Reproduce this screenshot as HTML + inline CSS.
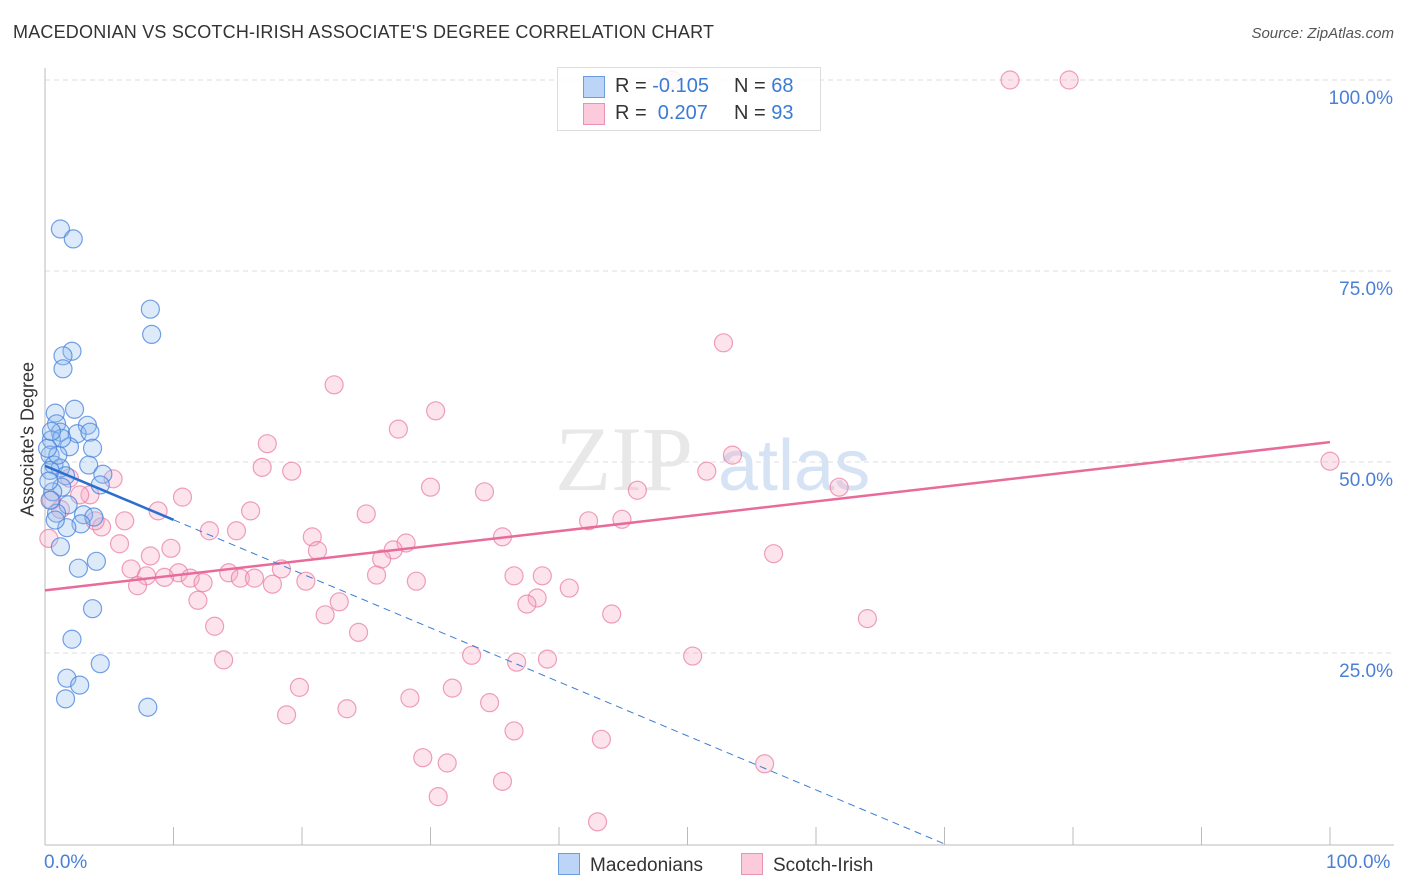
<!DOCTYPE html>
<html><head><meta charset="utf-8">
<style>
body{margin:0;background:#fff;font-family:"Liberation Sans",sans-serif;}
#wrap{position:relative;width:1406px;height:892px;overflow:hidden;}
.t{position:absolute;white-space:nowrap;}
</style></head>
<body>
<div id="wrap">
<div class="t" style="left:13px;top:22px;font-size:18px;color:#333;letter-spacing:0.2px">MACEDONIAN VS SCOTCH-IRISH ASSOCIATE'S DEGREE CORRELATION CHART</div>
<div class="t" style="right:12px;top:25px;font-size:15px;color:#555;font-style:italic">Source: ZipAtlas.com</div>
<svg id="c" width="1406" height="892" style="position:absolute;left:0;top:0"></svg>
</div>
<script>
const blueX=[1.2,2.2,8.2,8.3,2.1,1.4,1.4,2.3,0.8,3.3,0.9,1.2,2.5,3.5,0.5,1.9,3.7,0.4,0.7,3.4,1.2,4.5,1.6,4.3,1.3,0.6,1.8,3.0,0.9,3.8,2.8,1.7,1.2,4.0,2.6,3.7,2.1,4.3,1.7,2.7,1.6,8.0,0.4,0.4,0.8,1.0,1.3,0.2,0.5,0.3];
const blueY=[80.5,79.2,70.0,66.7,64.5,63.9,62.2,56.9,56.4,54.8,55.0,53.9,53.7,53.9,52.9,52.0,51.8,50.9,49.6,49.6,49.2,48.4,48.2,47.0,46.7,46.1,44.4,43.1,43.3,42.8,41.9,41.4,38.9,37.0,36.1,30.8,26.8,23.6,21.7,20.8,19.0,17.9,48.9,45.0,42.4,50.9,53.1,51.8,54.0,47.5];
const pinkX=[75.1,79.7,48.8,52.8,22.5,30.4,27.5,17.3,53.5,100,16.9,19.2,51.5,5.3,30.0,34.2,61.8,46.1,10.7,1.9,3.5,8.8,16.0,25.0,42.3,44.9,6.2,4.4,12.8,14.9,20.8,35.6,5.8,28.1,9.8,21.2,27.1,26.2,56.7,8.2,6.7,18.4,7.9,10.4,14.3,25.8,36.5,38.7,7.2,9.3,11.3,12.3,15.2,16.3,17.7,20.3,28.9,40.8,38.3,11.9,22.9,37.5,44.1,21.8,64.0,13.2,24.4,33.2,36.7,39.1,50.4,13.9,19.8,31.7,28.4,34.6,23.5,18.8,36.5,43.3,29.4,31.3,56.0,35.6,30.6,43.0,1.2,2.7,3.9,0.3,0.5];
const pinkY=[100,100,100,65.6,60.1,56.7,54.3,52.4,50.9,50.1,49.3,48.8,48.8,47.8,46.7,46.1,46.7,46.3,45.4,47.9,45.7,43.6,43.6,43.2,42.3,42.5,42.3,41.5,41.0,41.0,40.2,40.2,39.3,39.4,38.7,38.4,38.5,37.3,38.0,37.7,36.0,36.0,35.1,35.5,35.5,35.2,35.1,35.1,33.8,34.9,34.8,34.2,34.8,34.8,34.0,34.4,34.4,33.5,32.2,31.9,31.7,31.4,30.1,30.0,29.5,28.5,27.7,24.7,23.8,24.2,24.6,24.1,20.5,20.4,19.1,18.5,17.7,16.9,14.8,13.7,11.3,10.6,10.5,8.2,6.2,2.9,43.8,45.7,42.3,40.0,45.0];
const blueTrend=[49.5,-0.707];
const pinkTrend=[33.2,0.194];
const yTicks=[25,50,75,100];
const yTickLabels=["25.0%","50.0%","75.0%","100.0%"];

const NS="http://www.w3.org/2000/svg";
const svg=document.getElementById('c');
const X=v=>45+v*12.85, Y=v=>844-v*7.64;
function mk(t,a){const e=document.createElementNS(NS,t);for(const k in a)e.setAttribute(k,a[k]);svg.appendChild(e);return e;}
yTicks.forEach((v,i)=>{
 const g=mk('line',{x1:45,x2:1394,y1:Y(v),y2:Y(v),stroke:'#dcdcdc','stroke-dasharray':'5,4'});
 
 
 const t=mk('text',{x:1393,y:Y(v)+24,'text-anchor':'end','font-size':19,fill:'#4a7fd6'});
 t.textContent=yTickLabels[i];
 
 
});
let ax=mk('line',{x1:45,x2:45,y1:68,y2:845,stroke:'#bbb'});


ax=mk('line',{x1:45,x2:1394,y1:845,y2:845,stroke:'#bbb'});


for(let i=1;i<=10;i++){const tk=mk('line',{x1:X(i*10),x2:X(i*10),y1:827,y2:845,stroke:'#bbb'});
 
 }
let w=mk('text',{x:555,y:490,'font-size':92,fill:'#e8e8e8','font-family':'Liberation Serif'});w.textContent='ZIP';


w=mk('text',{x:718,y:490,'font-size':72,fill:'#d6e3f5'});w.textContent='atlas';


pinkX.forEach((x,i)=>{const c=mk('circle',{cx:X(x),cy:Y(pinkY[i]),r:9,fill:'rgba(247,168,196,0.32)',stroke:'rgba(232,120,160,0.7)','stroke-width':1.2});
 
 });
blueX.forEach((x,i)=>{const c=mk('circle',{cx:X(x),cy:Y(blueY[i]),r:9,fill:'rgba(150,190,240,0.32)',stroke:'rgba(70,130,220,0.75)','stroke-width':1.2});
 
 });
let l=mk('line',{x1:X(0),y1:Y(pinkTrend[0]),x2:X(100),y2:Y(pinkTrend[0]+pinkTrend[1]*100),stroke:'#e86b9a','stroke-width':2.5});


const bx0=-blueTrend[0]/blueTrend[1];
l=mk('line',{x1:X(10),y1:Y(blueTrend[0]+blueTrend[1]*10),x2:X(bx0),y2:Y(0),stroke:'#3a7bd5','stroke-width':1,'stroke-dasharray':'7,5'});


l=mk('line',{x1:X(0),y1:Y(blueTrend[0]),x2:X(10),y2:Y(blueTrend[0]+blueTrend[1]*10),stroke:'#2a6fd0','stroke-width':2.5});


</script>
<div class="t" style="left:-32px;top:446px;font-size:18px;color:#333;transform:rotate(-90deg);width:120px;text-align:center">Associate's Degree</div>
<div class="t" style="left:44px;top:852px;font-size:19px;color:#4a7fd6">0.0%</div>
<div class="t" style="left:1326px;top:852px;font-size:19px;color:#4a7fd6">100.0%</div>
<div style="position:absolute;left:557px;top:67px;width:262px;height:62px;border:1px solid #ddd;background:rgba(255,255,255,0.85);font-size:20px;">
 <div style="position:absolute;left:25px;top:8px;width:20px;height:20px;background:#bcd4f5;border:1px solid #6a9de0"></div>
 <div class="t" style="left:57px;top:7px;color:#333">R = <span style="color:#3a7bd5">-0.105</span></div>
 <div class="t" style="left:176px;top:7px;color:#333">N = <span style="color:#3a7bd5">68</span></div>
 <div style="position:absolute;left:25px;top:35px;width:20px;height:20px;background:#fbcadb;border:1px solid #e893b3"></div>
 <div class="t" style="left:57px;top:34px;color:#333">R = &nbsp;<span style="color:#3a7bd5">0.207</span></div>
 <div class="t" style="left:176px;top:34px;color:#333">N = <span style="color:#3a7bd5">93</span></div>
</div>
<div style="position:absolute;left:558px;top:853px;font-size:19px;color:#333">
 <span style="display:inline-block;width:20px;height:20px;background:#bcd4f5;border:1px solid #6a9de0;vertical-align:-4px;margin-right:10px"></span>Macedonians</div>
<div style="position:absolute;left:741px;top:853px;font-size:19px;color:#333">
 <span style="display:inline-block;width:20px;height:20px;background:#fbcadb;border:1px solid #e893b3;vertical-align:-4px;margin-right:10px"></span>Scotch-Irish</div>
</body></html>
